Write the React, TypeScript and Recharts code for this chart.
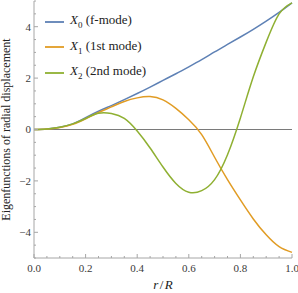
import { LineChart, Line, XAxis, YAxis, ReferenceLine, Legend } from 'recharts';

const r = [0, 0.05, 0.1, 0.15, 0.2, 0.25, 0.3, 0.35, 0.4, 0.45, 0.5, 0.55, 0.6, 0.65, 0.7, 0.75, 0.8, 0.85, 0.9, 0.95, 1.0];
const x0 = [0, 0.02, 0.09, 0.22, 0.46, 0.71, 0.93, 1.16, 1.4, 1.65, 1.91, 2.17, 2.44, 2.72, 3.02, 3.31, 3.6, 3.9, 4.22, 4.56, 4.93];
const x1 = [0, 0.02, 0.08, 0.2, 0.42, 0.66, 0.88, 1.09, 1.23, 1.28, 1.15, 0.82, 0.38, -0.2, -1.08, -1.95, -2.74, -3.48, -4.1, -4.56, -4.78];
const x2 = [0, 0.02, 0.09, 0.22, 0.43, 0.63, 0.62, 0.43, -0.06, -0.72, -1.46, -2.1, -2.44, -2.38, -1.95, -0.98, 0.45, 2.05, 3.4, 4.5, 4.93];

const xTicks = [0, 0.05, 0.1, 0.15, 0.2, 0.25, 0.3, 0.35, 0.4, 0.45, 0.5, 0.55, 0.6, 0.65, 0.7, 0.75, 0.8, 0.85, 0.9, 0.95, 1.0];
const yTicks = [-5, -4.5, -4, -3.5, -3, -2.5, -2, -1.5, -1, -0.5, 0, 0.5, 1, 1.5, 2, 2.5, 3, 3.5, 4, 4.5, 5];
const yLabelTicks = [-4, -2, 0, 2, 4];
const xLabelTicks = [0, 0.2, 0.4, 0.6, 0.8, 1.0];

const seriesKeys = ['x0', 'x1', 'x2'];
const seriesSubs = ['0', '1', '2'];
const seriesDesc = ['(f-mode)', '(1st mode)', '(2nd mode)'];
const seriesColors = ['#5E81B5', '#E19C24', '#8FB032'];

const data = r.map((v, i) => ({ r: v, x0: x0[i], x1: x1[i], x2: x2[i] }));

const FRAME = '#a6a6a6';
const LABEL = '#3a3a3a';
const FONT = 'Liberation Serif, DejaVu Serif, serif';

const has = (list: number[], v: number) => list.some(t => Math.abs(t - v) < 1e-6);

const BottomTick = ({ x, y, payload }: any) => {
  const major = has(xLabelTicks, payload.value);
  return (
    <g>
      <line x1={x} x2={x} y1={y} y2={y - (major ? 4 : 2)} stroke={FRAME} />
      {major && (
        <text x={x} y={y + 14} textAnchor="middle" style={{ fontSize: 11, fontFamily: FONT }} fill={LABEL}>
          {payload.value.toFixed(1)}
        </text>
      )}
    </g>
  );
};

const TopTick = ({ x, y, payload }: any) => {
  const major = has(xLabelTicks, payload.value);
  return <line x1={x} x2={x} y1={y} y2={y + (major ? 4 : 2)} stroke={FRAME} />;
};

const LeftTick = ({ x, y, payload }: any) => {
  const major = has(yLabelTicks, payload.value);
  const v = payload.value;
  return (
    <g>
      <line x1={x} x2={x + (major ? 4 : 2)} y1={y} y2={y} stroke={FRAME} />
      {major && (
        <text x={x - 3} y={y} dy="0.35em" textAnchor="end" style={{ fontSize: 11, fontFamily: FONT }} fill={LABEL}>
          {v < 0 ? `\u2212${-v}` : `${v}`}
        </text>
      )}
    </g>
  );
};

const RightTick = ({ x, y, payload }: any) => {
  const major = has(yLabelTicks, payload.value);
  return <line x1={x} x2={x - (major ? 4 : 2)} y1={y} y2={y} stroke={FRAME} />;
};

const YTitle = ({ viewBox }: any) => {
  const cx = 9.5;
  const cy = viewBox.y + viewBox.height / 2;
  return (
    <text
      x={cx}
      y={cy}
      transform={`rotate(-90 ${cx} ${cy})`}
      textAnchor="middle"
      style={{ fontSize: 12, fontFamily: FONT }}
      fill="#222"
    >
      Eigenfunctions of radial displacement
    </text>
  );
};

const XTitle = ({ viewBox }: any) => (
  <text
    x={viewBox.x + viewBox.width / 2}
    y={viewBox.y + 31}
    textAnchor="middle"
    style={{ fontSize: 13, fontFamily: FONT }}
    fill="#222"
  >
    <tspan fontStyle="italic">r</tspan>
    <tspan dx={1.5}>/</tspan>
    <tspan dx={1.5} fontStyle="italic">R</tspan>
  </text>
);

const LegendBox = () => (
  <div style={{ fontFamily: FONT, fontSize: 13, color: '#222', lineHeight: 1 }}>
    {seriesKeys.map((k, i) => (
      <div key={k} style={{ display: 'flex', alignItems: 'center', height: 25.5 }}>
        <svg width={19} height={4} style={{ marginRight: 6 }}>
          <line x1={0} x2={19} y1={2} y2={2} stroke={seriesColors[i]} strokeWidth={1.8} />
        </svg>
        <span>
          <i>X</i>
          <sub style={{ fontSize: 9 }}>{seriesSubs[i]}</sub> {seriesDesc[i]}
        </span>
      </div>
    ))}
  </div>
);

export default function App() {
  return (
    <>
      <style>{`body{margin:0}`}</style>
      <LineChart width={298} height={293} data={data} margin={{ top: 1, right: 6, bottom: 0, left: 0 }}>
        <XAxis
          dataKey="r"
          type="number"
          domain={[0, 1]}
          ticks={xTicks}
          interval={0}
          height={35}
          tickSize={0}
          tickMargin={0}
          stroke={FRAME}
          tick={<BottomTick />}
          label={<XTitle />}
        />
        <XAxis
          xAxisId="top"
          orientation="top"
          dataKey="r"
          type="number"
          domain={[0, 1]}
          ticks={xTicks}
          interval={0}
          height={0}
          tickSize={0}
          tickMargin={0}
          stroke={FRAME}
          tick={<TopTick />}
        />
        <YAxis
          type="number"
          domain={[-5, 5]}
          ticks={yTicks}
          interval={0}
          width={34}
          tickSize={0}
          tickMargin={0}
          stroke={FRAME}
          tick={<LeftTick />}
          label={<YTitle />}
        />
        <YAxis
          yAxisId="right"
          orientation="right"
          type="number"
          domain={[-5, 5]}
          ticks={yTicks}
          interval={0}
          width={0}
          tickSize={0}
          tickMargin={0}
          stroke={FRAME}
          tick={<RightTick />}
        />
        <ReferenceLine y={0} stroke="#7a7a7a" strokeWidth={1} />
        <Legend
          layout="vertical"
          align="center"
          verticalAlign="middle"
          content={<LegendBox />}
          wrapperStyle={{ top: 9, left: 45, width: 'auto', height: 'auto' }}
        />
        {seriesKeys.map((k, i) => (
          <Line
            key={k}
            dataKey={k}
            type="natural"
            stroke={seriesColors[i]}
            strokeWidth={1.5}
            dot={false}
            isAnimationActive={false}
          />
        ))}
        <Line
          xAxisId="top"
          yAxisId="right"
          dataKey="x0"
          stroke="none"
          dot={false}
          legendType="none"
          isAnimationActive={false}
        />
      </LineChart>
    </>
  );
}
